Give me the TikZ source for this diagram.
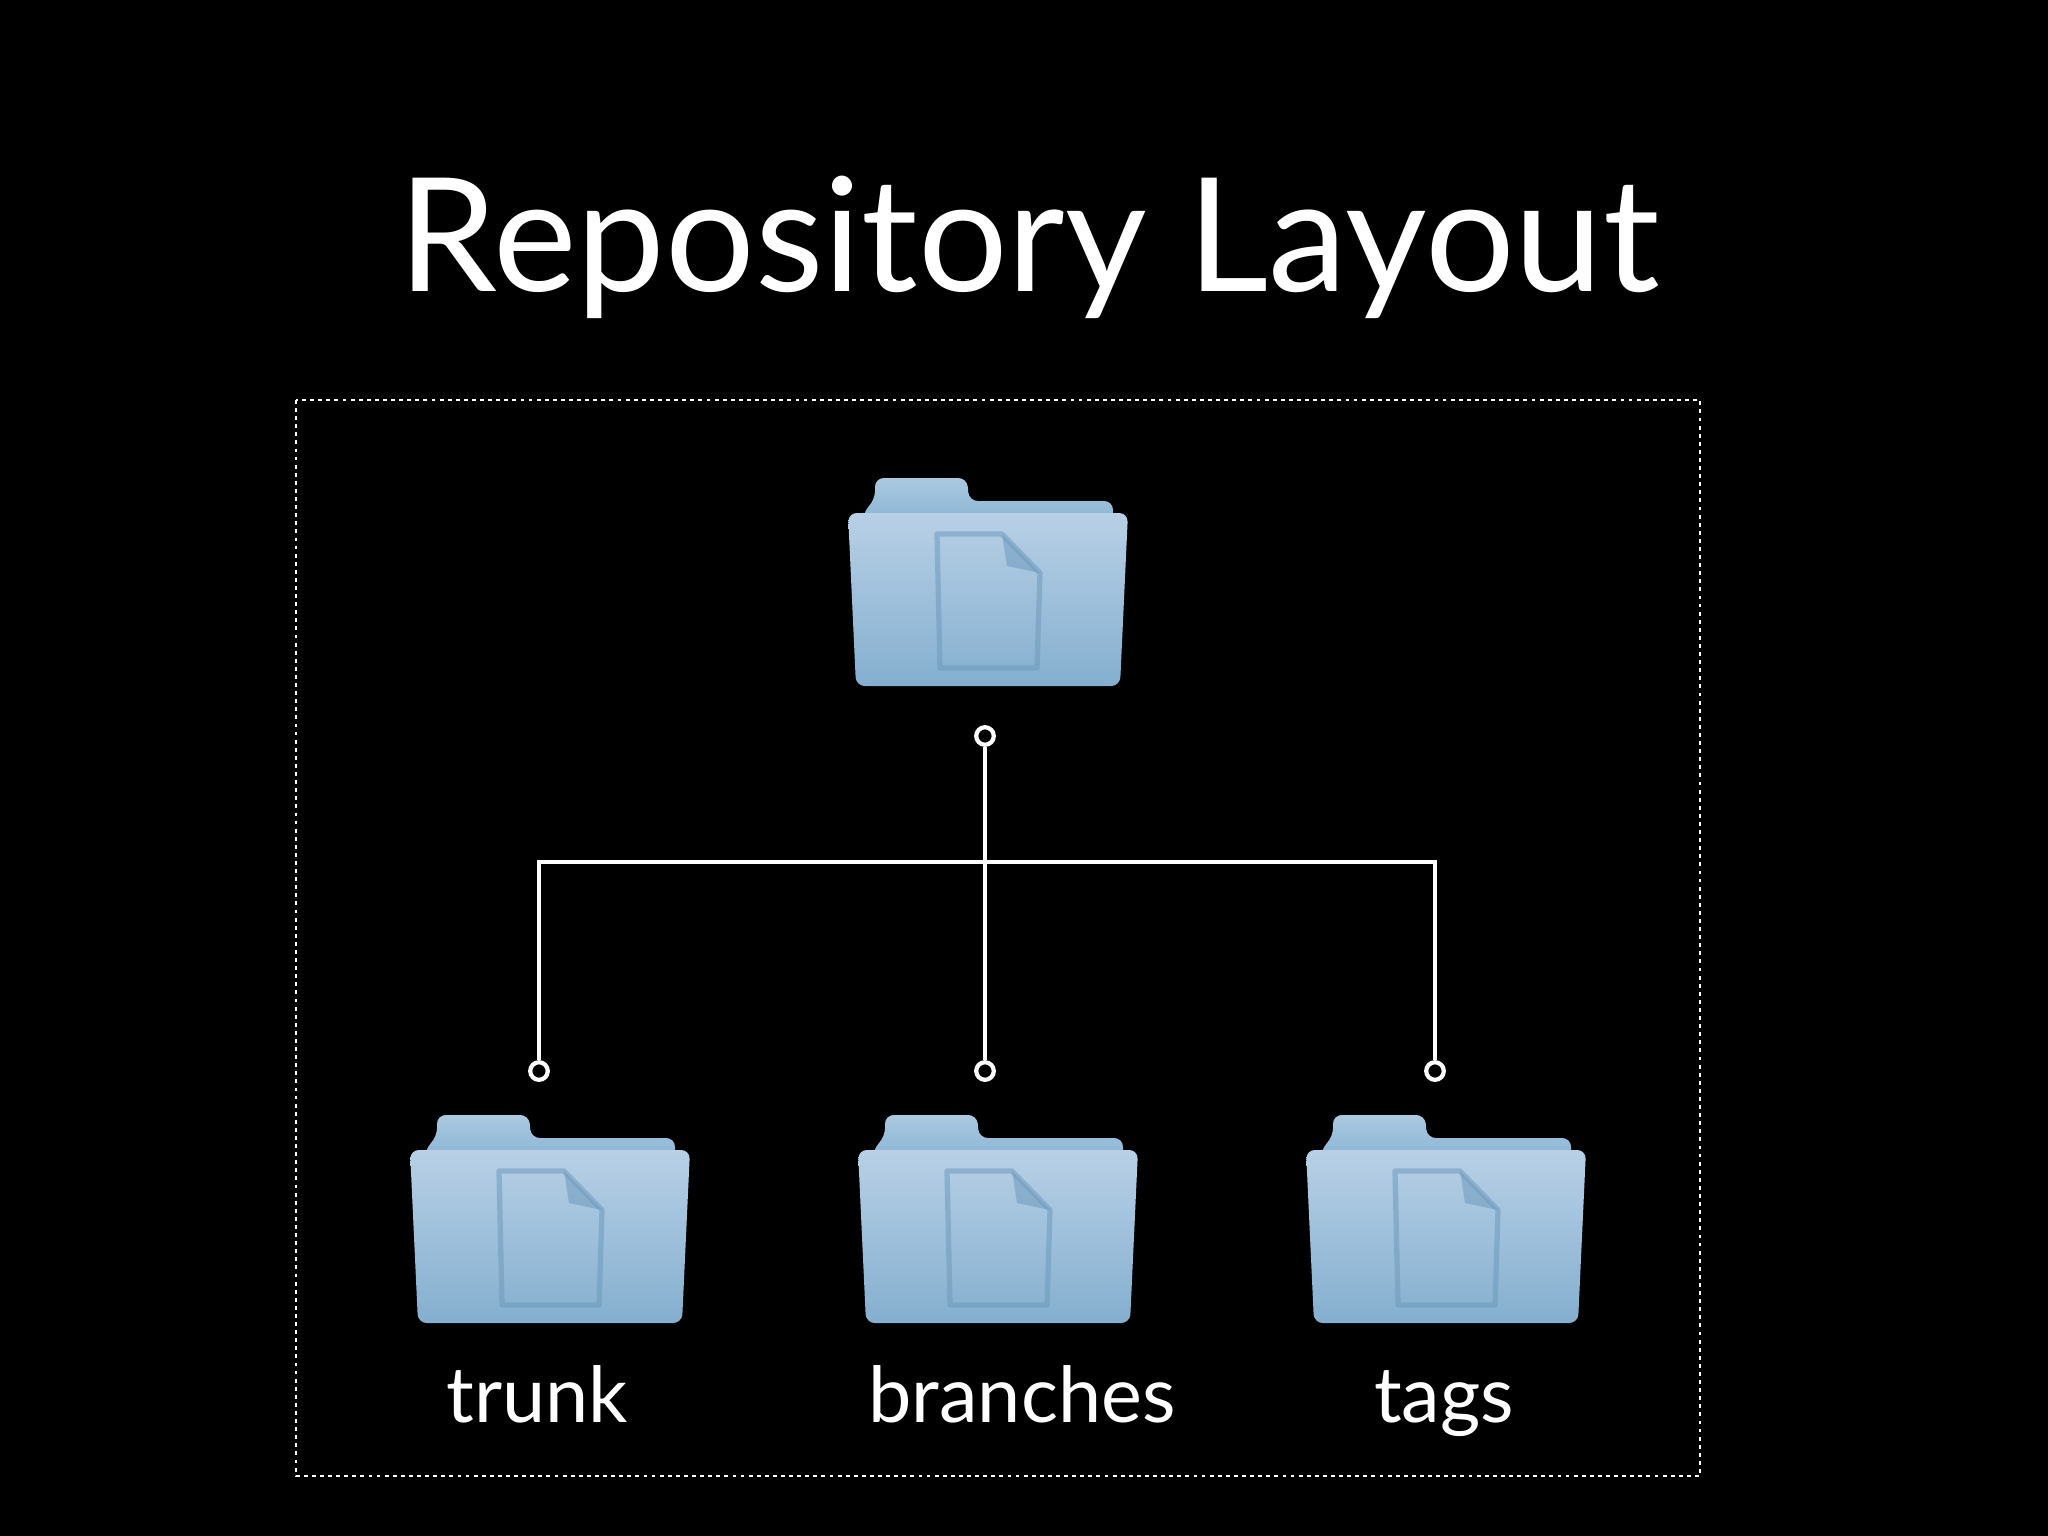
\documentclass[tikz,border=0pt]{standalone}
\usepackage{fontspec}
\setmainfont{Lato}
\definecolor{foldertop}{HTML}{B8D0E6}
\definecolor{folderbottom}{HTML}{84AFCF}
\definecolor{tabtop}{HTML}{ABC9E0}
\definecolor{tabbottom}{HTML}{8AB5D4}
\definecolor{sheetline}{HTML}{6F9ABD}
\tikzset{
  dot/.style={draw=white, fill=black, circle, line width=1.2pt, inner sep=0pt, minimum size=5pt},
  wire/.style={draw=white, line width=1.1pt},
  caption/.style={text=white, anchor=base, font=\fontsize{22}{24}\selectfont},
  pics/folder/.style={code={
    \shade[top color=tabtop, bottom color=tabbottom, rounded corners=2.5pt]
      (-125,-165) -- (-125,-174) -- (-113,-186) -- (-113,-208) -- (-21,-208) -- (-19,-185)
      -- (125,-185) -- (125,-165) -- cycle;
    \shade[top color=foldertop, bottom color=folderbottom, rounded corners=2.5pt]
      (-140,-173) -- (140,-173) -- (132,0) -- (-132,0) -- cycle;
    \fill[sheetline, opacity=.55] (14,-152) -- (19,-120) -- (52,-113) -- cycle;
    \draw[sheetline, opacity=.55, line width=1.5pt, line join=round]
      (-51,-152) -- (14,-152) -- (52,-113) -- (49,-18) -- (-48,-18) -- cycle;
  }}
}
\begin{document}
\begin{tikzpicture}[x=0.01cm, y=-0.01cm]
\fill[black] (0,0) rectangle (2048,1536);
\useasboundingbox (0,0) rectangle (2048,1536);
\node[text=white, anchor=base, font=\fontsize{45}{50}\selectfont] (title) at (1029,291) {Repository Layout};
\draw[white, line width=0.5pt, dash pattern=on 1.1pt off 1.2pt] (296,400) rectangle (1700,1476);
\pic at (988,686) {folder};
\pic at (550,1323) {folder};
\pic at (998,1323) {folder};
\pic at (1446,1323) {folder};
\node[caption] (trunk) at (537,1422) {trunk};
\node[caption] (branches) at (1022,1422) {branches};
\node[caption] (tags) at (1444,1422) {tags};
\node[dot] (rootdot) at (985,736) {};
\node[dot] (trunkdot) at (539,1071) {};
\node[dot] (branchesdot) at (985,1071) {};
\node[dot] (tagsdot) at (1435,1071) {};
\coordinate (bus) at (985,862);
\draw[wire] (rootdot) -- (branchesdot);
\draw[wire] (trunkdot) |- (bus) -| (tagsdot);
\end{tikzpicture}
\end{document}
